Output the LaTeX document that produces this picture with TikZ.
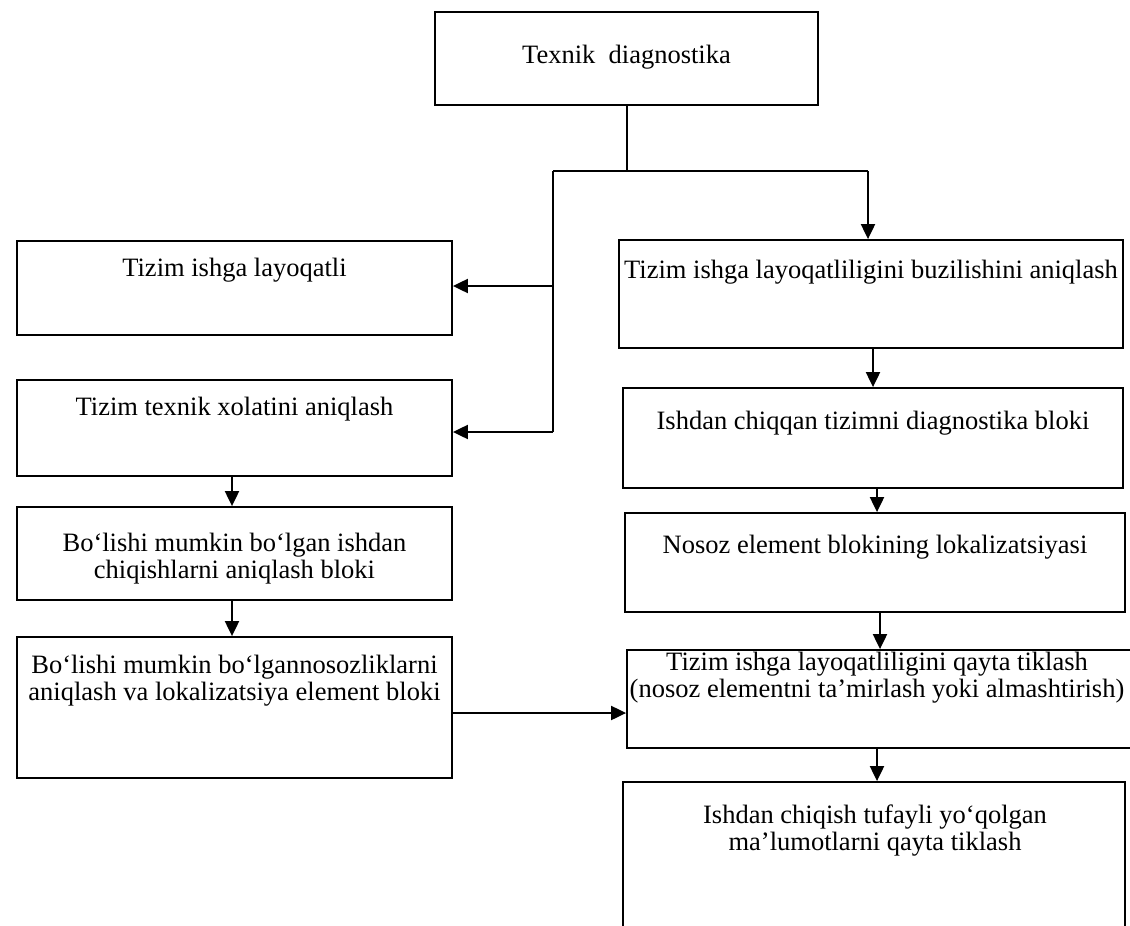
\documentclass[tikz,border=0pt]{standalone}
\usepackage{fontspec}
\setmainfont{Liberation Serif}
\usetikzlibrary{arrows.meta}
\begin{document}
\begin{tikzpicture}[x=1pt,y=-1pt,
  box/.style={draw, line width=1.8pt, rectangle, inner sep=0pt},
  txt/.style={inner sep=0pt, align=center, font=\fontsize{26.5}{27}\selectfont},
  link/.style={line width=1.8pt},
  arr/.style={line width=2pt, -{Triangle[length=15pt,width=14pt]}}]
\useasboundingbox (0,0) rectangle (1130,926);

% frames of the blocks
\node[box, minimum width=383pt, minimum height=93pt]  (top) at (626.5,58.5) {};
\node[box, minimum width=435pt, minimum height=94pt]  (A)   at (234.5,288)  {};
\node[box, minimum width=435pt, minimum height=96pt]  (B)   at (234.5,428)  {};
\node[box, minimum width=435pt, minimum height=93pt]  (C)   at (234.5,553.5) {};
\node[box, minimum width=435pt, minimum height=141pt] (D)   at (234.5,707.5) {};
\node[box, minimum width=504pt, minimum height=108pt] (R1)  at (871,294)    {};
\node[box, minimum width=500pt, minimum height=100pt] (R2)  at (873,438)    {};
\node[box, minimum width=500pt, minimum height=99pt]  (R3)  at (875,562.5)  {};
\node[box, minimum width=513pt, minimum height=98pt]  (R4)  at (883.5,699)  {};
\node[box, minimum width=502pt, minimum height=158pt] (R5)  at (874,861)    {};

% texts of the blocks
\node[txt] (tTop) at (626.5,57) {Texnik~ diagnostika};
\node[txt] (tA) at (234.5,270) {Tizim ishga layoqatli};
\node[txt] (tB) at (234.5,409) {Tizim texnik xolatini aniqlash};
\node[txt] (tC) at (234.5,559) {Bo‘lishi mumkin bo‘lgan ishdan\\chiqishlarni aniqlash bloki};
\node[txt] (tD) at (234.5,681) {Bo‘lishi mumkin bo‘lgannosozliklarni\\aniqlash va lokalizatsiya element bloki};
\node[txt] (tR1) at (871,272) {Tizim ishga layoqatliligini buzilishini aniqlash};
\node[txt] (tR2) at (873,423) {Ishdan chiqqan tizimni diagnostika bloki};
\node[txt] (tR3) at (875,547) {Nosoz element blokining lokalizatsiyasi};
\node[txt] (tR4) at (877,678) {Tizim ishga layoqatliligini qayta tiklash\\(nosoz elementni ta’mirlash yoki almashtirish)};
\node[txt] (tR5) at (875,831) {Ishdan chiqish tufayli yo‘qolgan\\ma’lumotlarni qayta tiklash};

% branching under the top block
\coordinate (jt) at (627,171);
\coordinate (jl) at (553,171);
\coordinate (jr) at (868,171);
\coordinate (ja) at (553,286);
\coordinate (jb) at (553,432);
\draw[link] (jt |- top.south) -- (jt);
\draw[link] (jl) -- (jr);
\draw[arr] (jr) -- (jr |- R1.north);
\draw[link] (jl) -- (jb);
\draw[arr] (ja) -- (ja -| A.east);
\draw[arr] (jb) -- (jb -| B.east);

% left column
\draw[arr] ([xshift=-2.5pt]B.south) -- ([xshift=-2.5pt]C.north);
\draw[arr] ([xshift=-2.5pt]C.south) -- ([xshift=-2.5pt]D.north);
\draw[arr] ([yshift=-5.5pt]D.east) -- ([yshift=-5.5pt]D.east -| R4.west);

% right column
\draw[arr] ([xshift=2pt]R1.south) -- ([xshift=2pt]R1.south |- R2.north);
\draw[arr] ([xshift=4pt]R2.south) -- ([xshift=4pt]R2.south |- R3.north);
\draw[arr] ([xshift=5pt]R3.south) -- ([xshift=5pt]R3.south |- R4.north);
\draw[arr] ([xshift=-6.5pt]R4.south) -- ([xshift=-6.5pt]R4.south |- R5.north);
\end{tikzpicture}
\end{document}
